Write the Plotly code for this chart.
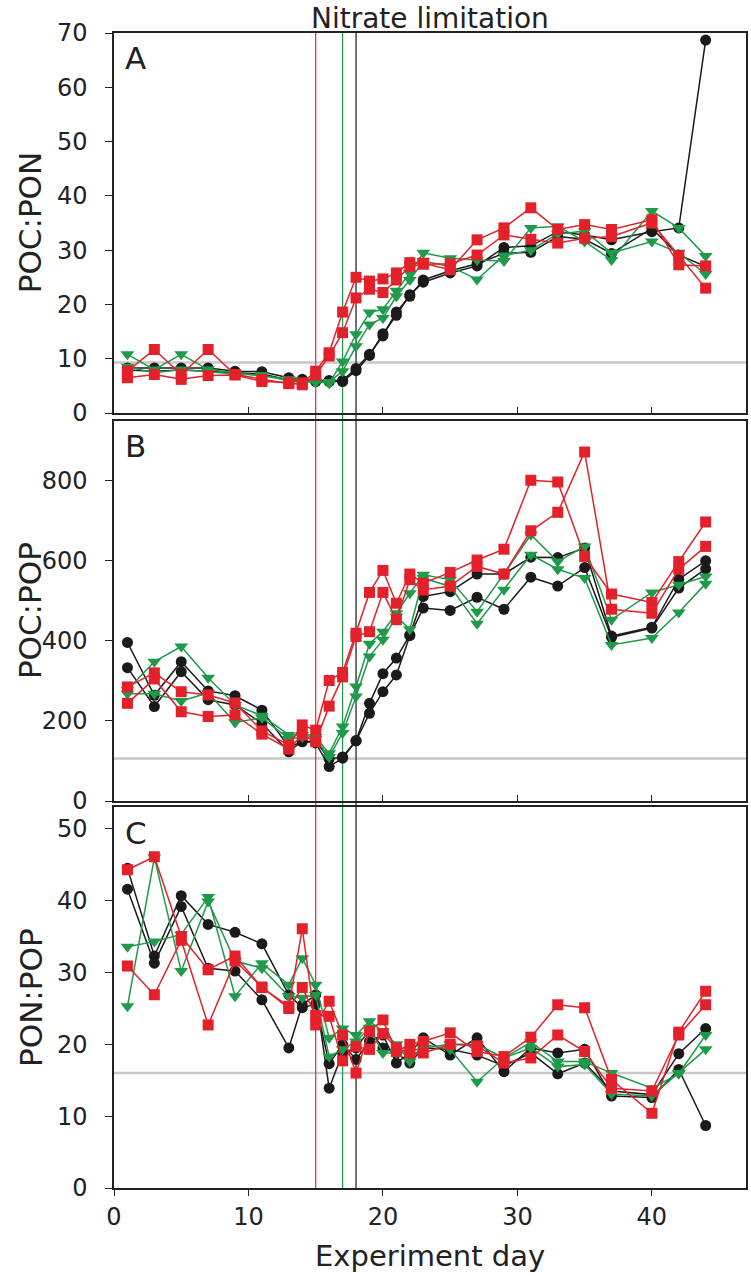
import plotly.graph_objects as go

days = [1, 3, 5, 7, 9, 11, 13, 14, 15, 16, 17, 18, 19, 20, 21, 22, 23, 25, 27, 29, 31, 33, 35, 37, 40, 42, 44]

# Panel A: POC:PON
a_black1 = [8.3, 8.3, 8.3, 8.3, 7.7, 7.6, 6.5, 6.2, 6.0, 5.8, 5.8, 7.8, 10.6, 14.6, 18.0, 21.8, 24.1, 25.8, 27.1, 30.5, 30.8, 33.4, 32.8, 31.9, 33.4, 34.1, 68.7]
a_black2 = [7.9, 7.7, 7.9, 7.7, 7.4, 7.2, 6.1, 5.9, 5.8, 6.0, 6.0, 8.2, 10.8, 14.2, 18.6, 21.5, 24.5, 26.2, 27.5, 29.4, 29.6, 32.5, 32.0, 29.4, 34.0, 29.1, 27.0]
a_green1 = [10.8, 8.0, 10.8, 8.0, 7.4, 6.8, 6.2, 6.0, 5.8, 5.5, 9.5, 14.5, 18.5, 19.1, 22.5, 25.8, 29.5, 28.5, 28.2, 28.0, 34.1, 34.4, 31.6, 28.2, 37.2, 34.1, 28.9]
a_green2 = [8.5, 7.4, 8.0, 7.6, 7.2, 7.0, 5.9, 5.8, 5.6, 5.7, 7.7, 12.3, 16.3, 17.5, 21.5, 24.5, 28.0, 27.0, 24.6, 29.0, 30.0, 33.0, 33.5, 29.5, 31.6, 29.5, 25.6]
a_red1 = [7.7, 11.7, 7.1, 11.7, 7.1, 6.2, 5.4, 5.5, 7.7, 11.1, 18.6, 25.0, 24.3, 24.7, 25.8, 27.7, 27.6, 26.4, 31.9, 34.1, 37.8, 33.8, 34.7, 33.8, 35.6, 27.3, 27.1]
a_red2 = [6.5, 7.1, 6.2, 6.9, 7.0, 5.8, 5.6, 5.2, 7.0, 10.5, 14.8, 21.2, 22.8, 22.2, 24.5, 27.0, 27.4, 27.5, 29.1, 32.8, 32.0, 31.3, 32.2, 32.5, 35.0, 29.0, 23.0]

# Panel B: POC:POP
b_black1 = [396, 264, 348, 275, 263, 227, 135, 148, 150, 105, 110, 151, 244, 318, 357, 415, 511, 523, 567, 567, 609, 608, 632, 412, 434, 554, 600]
b_black2 = [333, 236, 323, 253, 240, 194, 123, 150, 145, 86, 107, 150, 219, 273, 315, 413, 482, 476, 509, 479, 559, 537, 583, 409, 432, 532, 580]
b_green1 = [278, 348, 386, 308, 240, 213, 165, 165, 160, 119, 186, 286, 393, 423, 469, 519, 565, 553, 473, 567, 665, 598, 636, 453, 521, 540, 561]
b_green2 = [268, 268, 250, 270, 196, 208, 155, 160, 155, 110, 170, 261, 361, 403, 461, 429, 557, 536, 443, 528, 615, 579, 557, 390, 407, 471, 543]
b_red1 = [285, 320, 273, 265, 245, 175, 140, 190, 177, 301, 321, 419, 521, 576, 494, 567, 544, 571, 602, 629, 801, 797, 611, 517, 496, 598, 697]
b_red2 = [244, 305, 223, 211, 215, 167, 130, 165, 148, 237, 310, 411, 423, 521, 453, 553, 527, 537, 586, 567, 675, 721, 872, 479, 469, 579, 636]

# Panel C: PON:POP
c_black1 = [44.5, 32.3, 40.7, 36.7, 35.6, 34.0, 26.9, 25.1, 25.6, 17.3, 20.0, 17.9, 20.4, 21.3, 17.4, 18.8, 20.9, 18.5, 20.9, 16.2, 19.5, 18.8, 19.3, 12.8, 12.6, 16.5, 8.7]
c_black2 = [41.6, 31.3, 39.2, 30.6, 30.2, 26.2, 19.5, 25.5, 26.9, 13.9, 18.8, 19.5, 22.0, 19.5, 18.8, 17.4, 19.5, 19.3, 18.5, 17.0, 18.8, 15.9, 17.4, 13.5, 13.0, 18.7, 22.2]
c_green1 = [33.6, 34.3, 35.3, 40.5, 26.7, 31.3, 28.3, 32.0, 28.3, 20.9, 22.2, 21.3, 23.2, 21.8, 20.0, 17.6, 20.0, 19.3, 14.8, 18.1, 20.3, 17.6, 17.6, 16.0, 13.9, 15.9, 21.3]
c_green2 = [25.3, 46.0, 30.2, 39.9, 31.6, 30.6, 26.7, 26.5, 26.9, 18.3, 19.3, 20.4, 22.3, 18.8, 18.8, 19.0, 19.5, 20.0, 20.0, 18.1, 19.5, 16.9, 17.2, 13.1, 12.8, 16.0, 19.3]
c_red1 = [44.3, 46.1, 35.0, 30.4, 32.3, 27.9, 25.3, 36.1, 22.7, 26.0, 21.3, 16.0, 21.8, 23.4, 19.0, 20.0, 20.4, 21.6, 19.0, 18.3, 21.0, 25.5, 25.1, 15.1, 10.4, 21.7, 27.4]
c_red2 = [30.9, 26.9, 34.5, 22.7, 31.6, 28.0, 25.0, 27.9, 24.0, 23.9, 17.7, 19.7, 19.3, 21.5, 19.5, 18.8, 18.8, 20.0, 19.8, 17.4, 18.1, 21.3, 19.0, 13.9, 13.5, 21.3, 25.5]

# Reference levels and treatment onsets
ref_a, ref_b, ref_c = 9.3, 106, 16
onset_red, onset_green, onset_black = 15, 17, 18

panel_letters = ["A", "B", "C"]
y_titles = ["POC:PON", "POC:POP", "PON:POP"]
x_ticks = [0, 10, 20, 30, 40]

BLACK = "#1a1a1a"
GREEN = "#1f9a4a"
RED = "#e3212b"
FONT = "DejaVu Sans, Verdana, sans-serif"

W, H = 751, 1276
PL, PR, PT, PB = 114, 748, 33, 1188  # plot area in pixels


def py(y):
    return (PB - y) / (PB - PT)


def pxf(x):
    return (x - PL) / (PR - PL)


fig = go.Figure()

series = [
    ("y", [(a_black1, BLACK, "circle"), (a_black2, BLACK, "circle"),
           (a_green1, GREEN, "triangle-down"), (a_green2, GREEN, "triangle-down"),
           (a_red1, RED, "square"), (a_red2, RED, "square")]),
    ("y2", [(b_black1, BLACK, "circle"), (b_black2, BLACK, "circle"),
            (b_green1, GREEN, "triangle-down"), (b_green2, GREEN, "triangle-down"),
            (b_red1, RED, "square"), (b_red2, RED, "square")]),
    ("y3", [(c_black1, BLACK, "circle"), (c_black2, BLACK, "circle"),
            (c_green1, GREEN, "triangle-down"), (c_green2, GREEN, "triangle-down"),
            (c_red1, RED, "square"), (c_red2, RED, "square")]),
]
xa = {"y": "x", "y2": "x2", "y3": "x3"}
for yref, lst in series:
    for vals, col, sym in lst:
        size = 11 if sym != "triangle-down" else 12
        fig.add_trace(go.Scatter(
            x=days, y=vals, xaxis=xa[yref], yaxis=yref, mode="lines+markers",
            line=dict(color=col, width=1.5),
            marker=dict(color=col, symbol=sym, size=size, line=dict(width=0)),
            showlegend=False, hoverinfo="x+y"))

axis_line = dict(showline=True, linecolor="#222", linewidth=1.5, mirror=True,
                 showgrid=False, zeroline=False)
tickfont = dict(family=FONT, size=24, color="#222")

dA = [py(413), 1.0]
dB = [py(801), py(420.7)]
dC = [0.0, py(807.3)]

fig.update_layout(
    width=W, height=H,
    margin=dict(l=PL, r=W - PR, t=PT, b=H - PB),
    paper_bgcolor="white", plot_bgcolor="white",
    font=dict(family=FONT, color="#222"),
    xaxis=dict(domain=[0, 1], anchor="y", range=[0, 47], tickvals=x_ticks,
               showticklabels=False, ticks="inside", ticklen=6, tickcolor="#222", **axis_line),
    xaxis2=dict(domain=[0, 1], anchor="y2", range=[0, 47], matches="x", tickvals=x_ticks,
                showticklabels=False, ticks="inside", ticklen=6, tickcolor="#222", **axis_line),
    xaxis3=dict(domain=[0, 1], anchor="y3", range=[0, 47], matches="x", tickvals=x_ticks,
                ticks="outside", ticklen=6, tickcolor="#222", tickfont=tickfont,
                ticklabelstandoff=0, **axis_line),
    yaxis=dict(domain=dA, anchor="x", range=[0, 70], tickvals=[0, 10, 20, 30, 40, 50, 60, 70],
               ticks="outside", ticklen=7, tickcolor="#222", tickfont=tickfont,
               ticklabelstandoff=13, **axis_line),
    yaxis2=dict(domain=dB, anchor="x2", range=[0, 950], tickvals=[0, 200, 400, 600, 800],
                ticks="outside", ticklen=7, tickcolor="#222", tickfont=tickfont,
                ticklabelstandoff=13, **axis_line),
    yaxis3=dict(domain=dC, anchor="x3", range=[0, 53], tickvals=[0, 10, 20, 30, 40, 50],
                ticks="outside", ticklen=7, tickcolor="#222", tickfont=tickfont,
                ticklabelstandoff=13, **axis_line),
)

shapes = []
for yref, v in (("y", ref_a), ("y2", ref_b), ("y3", ref_c)):
    shapes.append(dict(type="line", xref="paper", x0=0, x1=1, yref=yref, y0=v, y1=v,
                       line=dict(color="#c8c8c8", width=2.5), layer="below"))
for xv, col, w in ((onset_red, "#ec2a33", 1.2), (onset_green, "#1f9a4a", 1.2), (onset_black, "#444444", 1.5)):
    shapes.append(dict(type="line", xref="x", x0=xv, x1=xv, yref="paper", y0=0, y1=1,
                       line=dict(color=col, width=w), layer="below"))
fig.update_layout(shapes=shapes)

ann = []
letter_y = [py(58), py(446), py(832.5)]
for lt, yy in zip(panel_letters, letter_y):
    ann.append(dict(text=lt, xref="paper", yref="paper", x=pxf(123), y=yy, xanchor="left",
                    yanchor="middle", showarrow=False, font=dict(family=FONT, size=31, color="#222")))
title_y = [(dA[0] + dA[1]) / 2, (dB[0] + dB[1]) / 2, (dC[0] + dC[1]) / 2]
for t, yy in zip(y_titles, title_y):
    ann.append(dict(text=t, xref="paper", yref="paper", x=pxf(30), y=yy, xanchor="center",
                    yanchor="middle", textangle=-90, showarrow=False,
                    font=dict(family=FONT, size=31, color="#222")))
ann.append(dict(text="Nitrate limitation", xref="paper", yref="paper", x=0.5, y=py(0),
                xanchor="center", yanchor="top", showarrow=False,
                font=dict(family=FONT, size=28, color="#222")))
ann.append(dict(text="Experiment day", xref="paper", yref="paper", x=0.5, y=py(1275),
                xanchor="center", yanchor="bottom", showarrow=False,
                font=dict(family=FONT, size=29, color="#222")))
fig.update_layout(annotations=ann)

fig.write_html("out.html", config={"displayModeBar": False},
               post_script="document.body.style.margin='0';")
